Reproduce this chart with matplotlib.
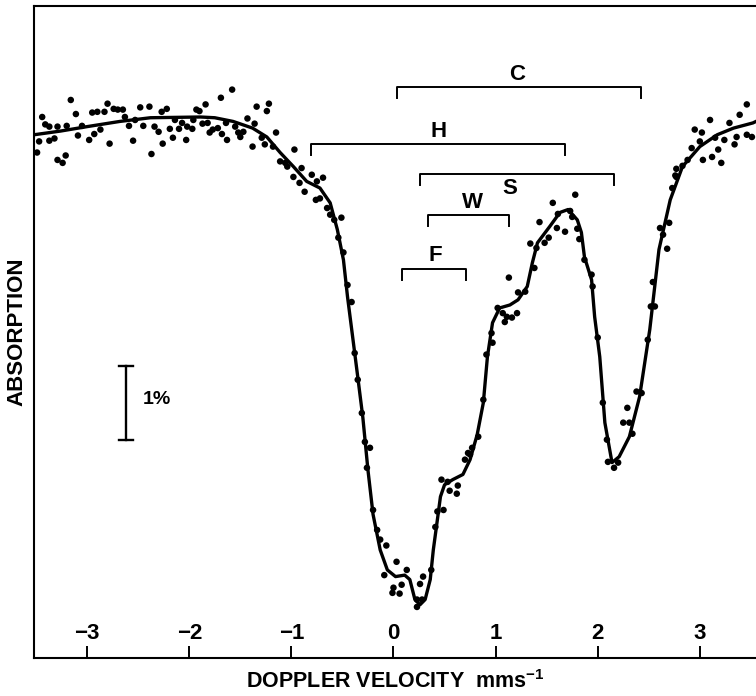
import matplotlib
matplotlib.use('Agg')
import matplotlib.pyplot as plt
import numpy as np

plt.rcParams['font.family'] = ['Liberation Sans', 'DejaVu Sans']
plt.rcParams['mathtext.default'] = 'regular'

# fitted curve: doppler velocity (mm/s) vs relative absorption (%)
curve_v = [-3.52, -3.26, -3.00, -2.68, -2.38, -1.89, -1.75, -1.57, -1.38, -1.24,
           -1.11, -0.98, -0.85, -0.72, -0.62, -0.55, -0.49, -0.45, -0.40, -0.35,
           -0.30, -0.25, -0.20, -0.13, -0.06, 0.02, 0.11, 0.16, 0.21, 0.26,
           0.31, 0.36, 0.39, 0.43, 0.46, 0.50, 0.58, 0.68, 0.75, 0.82,
           0.88, 0.92, 0.97, 1.04, 1.14, 1.22, 1.31, 1.36, 1.41, 1.53,
           1.63, 1.71, 1.80, 1.84, 1.87, 1.94, 1.97, 2.02, 2.07, 2.14,
           2.21, 2.31, 2.41, 2.51, 2.60, 2.71, 2.83, 3.00, 3.17, 3.33,
           3.52, 3.55]
curve_y = [-0.23, -0.18, -0.12, -0.05, 0.00, 0.01, 0.00, -0.05, -0.14, -0.26,
           -0.47, -0.66, -0.86, -0.95, -1.15, -1.51, -1.92, -2.42, -2.96, -3.50,
           -4.05, -4.76, -5.36, -5.84, -6.11, -6.20, -6.18, -6.24, -6.51, -6.58,
           -6.51, -6.24, -5.84, -5.43, -5.12, -4.96, -4.89, -4.82, -4.62, -4.28,
           -3.85, -3.23, -2.77, -2.57, -2.53, -2.46, -2.28, -1.96, -1.69, -1.47,
           -1.28, -1.24, -1.38, -1.55, -1.88, -2.19, -2.69, -3.23, -4.12, -4.66,
           -4.58, -4.31, -3.77, -2.86, -1.78, -1.11, -0.66, -0.39, -0.23, -0.14,
           -0.07, -0.05]

# measured points
data_v = [-3.49, -3.47, -3.44, -3.41, -3.37, -3.37, -3.32, -3.29, -3.29, -3.24,
          -3.21, -3.20, -3.16, -3.11, -3.09, -3.05, -2.98, -2.95, -2.90, -2.93,
          -2.87, -2.83, -2.80, -2.78, -2.74, -2.70, -2.65, -2.63, -2.59, -2.55,
          -2.53, -2.48, -2.45, -2.39, -2.37, -2.34, -2.30, -2.27, -2.26, -2.22,
          -2.19, -2.16, -2.14, -2.10, -2.07, -2.03, -2.02, -1.97, -1.96, -1.93,
          -1.90, -1.87, -1.84, -1.82, -1.80, -1.77, -1.72, -1.69, -1.68, -1.64,
          -1.63, -1.58, -1.55, -1.52, -1.50, -1.47, -1.43, -1.38, -1.36, -1.34,
          -1.29, -1.26, -1.24, -1.22, -1.18, -1.15, -1.11, -1.06, -1.04, -0.98,
          -0.97, -0.92, -0.90, -0.87, -0.80, -0.76, -0.75, -0.72, -0.69, -0.65,
          -0.62, -0.58, -0.51, -0.54, -0.49, -0.45, -0.41, -0.38, -0.35, -0.31,
          -0.28, -0.23, -0.26, -0.20, -0.16, -0.13, -0.07, 0.03, -0.09, 0.13,
          0.08, 0.00, -0.01, 0.06, 0.26, 0.29, 0.23, 0.28, 0.23, 0.37,
          0.41, 0.43, 0.49, 0.47, 0.53, 0.55, 0.62, 0.63, 0.70, 0.75,
          0.77, 0.83, 0.73, 0.88, 0.91, 0.96, 0.97, 1.02, 1.07, 1.11,
          1.16, 1.21, 1.09, 1.13, 1.22, 1.29, 1.38, 1.34, 1.40, 1.48,
          1.52, 1.43, 1.56, 1.60, 1.61, 1.68, 1.73, 1.78, 1.75, 1.80,
          1.82, 1.87, 1.94, 1.95, 2.00, 2.05, 2.09, 2.10, 2.16, 2.20,
          2.25, 2.29, 2.31, 2.34, 2.38, 2.43, 2.49, 2.52, 2.56, 2.54,
          2.61, 2.64, 2.68, 2.70, 2.73, 2.76, 2.77, 2.83, 2.88, 2.92,
          2.95, 3.00, 3.02, 3.03, 3.10, 3.12, 3.15, 3.18, 3.21, 3.24,
          3.29, 3.34, 3.36, 3.39, 3.46, 3.46, 3.51, 2.77]
data_y = [-0.47, -0.32, 0.01, -0.09, -0.12, -0.31, -0.28, -0.12, -0.57, -0.61,
          -0.51, -0.11, 0.24, 0.05, -0.24, -0.11, -0.30, 0.07, 0.08, -0.22,
          -0.16, 0.08, 0.19, -0.35, 0.12, 0.11, 0.11, 0.01, -0.11, -0.31,
          -0.03, 0.14, -0.11, 0.15, -0.49, -0.12, -0.19, 0.08, -0.35, 0.12,
          -0.15, -0.27, -0.03, -0.15, -0.07, -0.30, -0.12, -0.15, -0.03, 0.11,
          0.09, -0.08, 0.18, -0.07, -0.20, -0.16, -0.14, 0.27, -0.22, -0.07,
          -0.30, 0.38, -0.12, -0.20, -0.26, -0.19, -0.01, -0.39, -0.08, 0.15,
          -0.27, -0.36, 0.09, 0.19, -0.39, -0.20, -0.59, -0.61, -0.66, -0.80,
          -0.43, -0.88, -0.68, -1.00, -0.77, -1.11, -0.86, -1.09, -0.81, -1.22,
          -1.31, -1.38, -1.35, -1.62, -1.82, -2.26, -2.49, -3.18, -3.54, -3.99,
          -4.38, -4.46, -4.73, -5.30, -5.57, -5.70, -5.78, -6.00, -6.18, -6.11,
          -6.31, -6.35, -6.42, -6.43, -6.30, -6.20, -6.51, -6.51, -6.61, -6.11,
          -5.53, -5.32, -5.30, -4.89, -4.92, -5.04, -5.08, -4.97, -4.62, -4.55,
          -4.46, -4.31, -4.53, -3.81, -3.20, -2.91, -3.04, -2.57, -2.64, -2.69,
          -2.70, -2.64, -2.76, -2.16, -2.36, -2.35, -2.03, -1.70, -1.76, -1.69,
          -1.62, -1.41, -1.15, -1.49, -1.30, -1.54, -1.26, -1.04, -1.34, -1.50,
          -1.64, -1.92, -2.12, -2.28, -2.97, -3.85, -4.35, -4.65, -4.73, -4.66,
          -4.12, -3.92, -4.12, -4.27, -3.70, -3.72, -3.00, -2.55, -2.55, -2.22,
          -1.49, -1.58, -1.77, -1.42, -0.95, -0.78, -0.69, -0.65, -0.57, -0.41,
          -0.16, -0.32, -0.20, -0.57, -0.03, -0.53, -0.27, -0.43, -0.61, -0.30,
          -0.07, -0.36, -0.26, 0.04, 0.18, -0.23, -0.26, -0.80]

# site brackets: label, start velocity, end velocity, level (%)
site_labels = ['C', 'H', 'S', 'W', 'F']
site_start = [0.03, -0.81, 0.26, 0.34, 0.08]
site_end = [2.42, 1.68, 2.16, 1.13, 0.71]
site_level = [0.41, -0.35, -0.76, -1.31, -2.04]

xticks = [-3, -2, -1, 0, 1, 2, 3]

fig = plt.figure(figsize=(7.56, 6.96), dpi=100)
ax = fig.add_axes([0.045, 0.0546, 0.955, 0.9368])

ax.plot(curve_v, curve_y, color='black', lw=2.4, solid_joinstyle='round', zorder=3)
ax.scatter(data_v, data_y, s=22, color='black', edgecolors='none', zorder=4)

# brackets
drop = 0.15
for lab, a, b, lev in zip(site_labels, site_start, site_end, site_level):
    ax.plot([a, a, b, b], [lev - drop, lev, lev, lev - drop], color='black', lw=1.4)
label_pos = {'C': (1.21, 0.58), 'H': (0.44, -0.18), 'S': (1.14, -0.95),
             'W': (0.77, -1.14), 'F': (0.41, -1.86)}
for lab in site_labels:
    px, py = label_pos[lab]
    ax.text(px, py, lab, ha='center', va='center', fontsize=16, fontweight='bold')

# 1% scale bar
ax.plot([-2.62, -2.62], [-3.36, -4.36], color='black', lw=1.7)
ax.plot([-2.685, -2.555], [-3.36, -3.36], color='black', lw=1.7)
ax.plot([-2.685, -2.555], [-4.36, -4.36], color='black', lw=1.7)
ax.text(-2.46, -3.81, '1%', ha='left', va='center', fontsize=14, fontweight='bold')

ax.set_xlim(-3.52, 3.55)
ax.set_ylim(-7.30, 1.51)
ax.set_xticks(xticks)
ax.set_xticklabels([str(t).replace('-', '\u2212') for t in xticks], fontweight='bold')
ax.set_yticks([])
ax.tick_params(axis='x', direction='in', length=9, width=1.4, pad=-25, labelsize=16)
for s in ['left', 'top', 'bottom']:
    ax.spines[s].set_linewidth(1.5)
ax.spines['right'].set_visible(False)

ax.set_xlabel('DOPPLER VELOCITY  mms$^{-1}$', fontsize=15.5, fontweight='bold', labelpad=9)
ax.set_ylabel('ABSORPTION', fontsize=16, fontweight='bold', labelpad=5)

fig.savefig('out.png', dpi=100)
